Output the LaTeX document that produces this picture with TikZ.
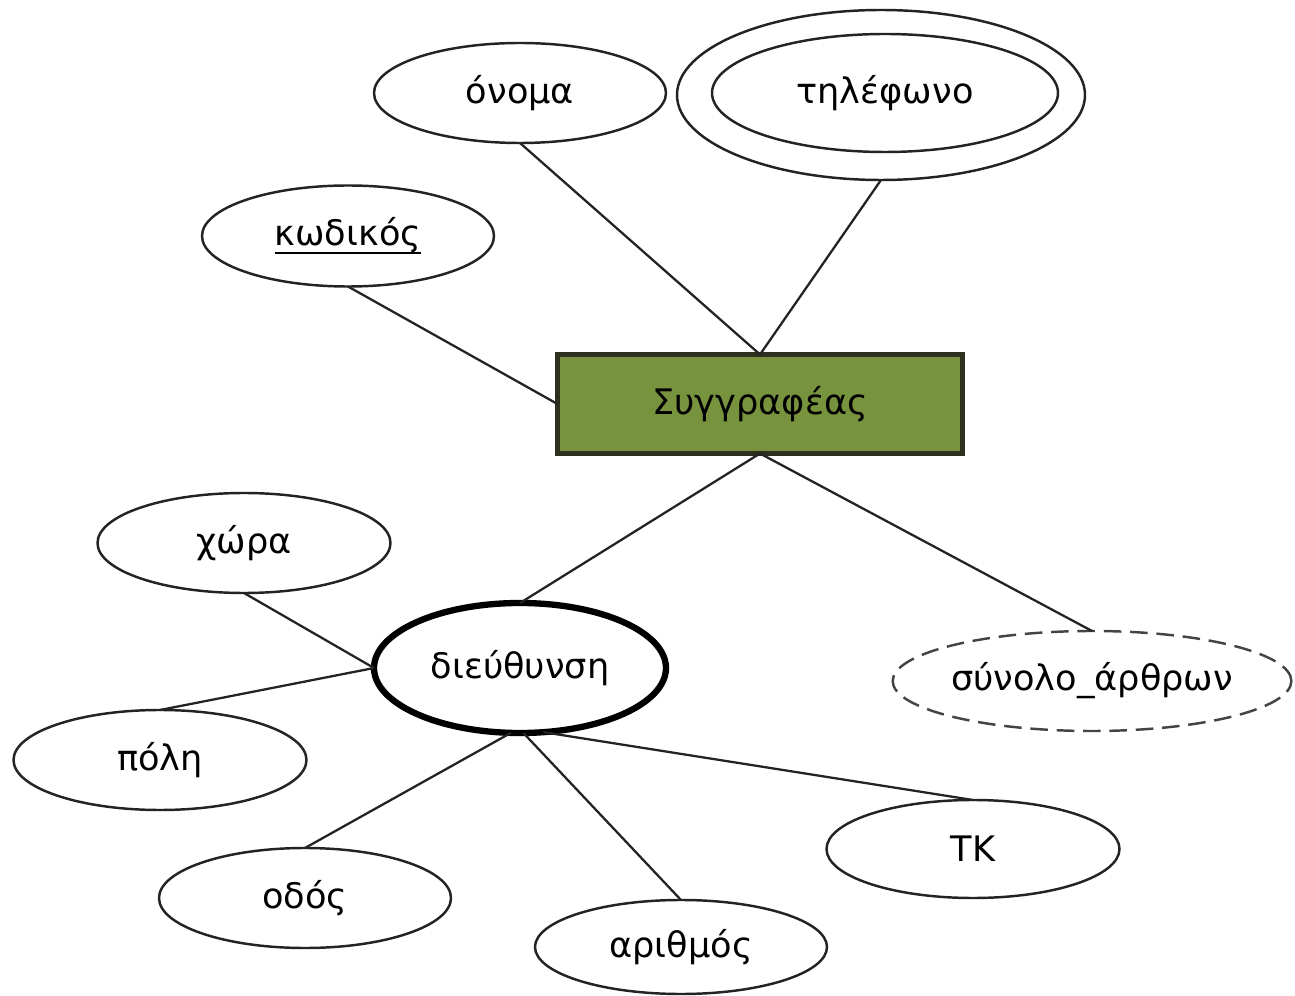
\documentclass[tikz,border=0pt]{standalone}
\usepackage{fontspec}
\setmainfont{DejaVu Sans}
\usetikzlibrary{shapes.geometric}
\definecolor{entgreen}{RGB}{119,147,62}
\definecolor{entedge}{RGB}{45,48,30}
\definecolor{edge}{RGB}{35,35,35}
% key attribute: text with a firm underline
\newsavebox{\keybox}
\newcommand{\keyattr}[1]{\sbox{\keybox}{#1}\rlap{\rule[-5pt]{\wd\keybox}{1.6pt}}\usebox{\keybox}}
\tikzset{
  lbl/.style={font=\fontsize{20}{24}\selectfont},
  attr/.style={ellipse, draw=edge, line width=1.4pt, inner sep=0pt, outer sep=0pt, lbl},
  sz/.style 2 args={minimum width=#1*0.02cm, minimum height=#2*0.02cm},
  entity/.style={rectangle, draw=entedge, fill=entgreen, line width=2.4pt, inner sep=0pt, outer sep=0pt, lbl},
  composite/.style={attr, draw=black, line width=3.6pt},
  derived/.style={attr, draw=edge!85, line width=1.4pt, dash pattern=on 10pt off 5pt},
  link/.style={draw=edge, line width=1.3pt},
}
\begin{document}
\begin{tikzpicture}[x=0.02cm,y=-0.02cm]
\useasboundingbox (0,0) rectangle (1295,996);

% entity
\node[entity, sz={405}{99}] (auth) at (760,404) {Συγγραφέας};

% attributes of the entity
\node[attr, sz={292}{100}] (onoma) at (520,93) {όνομα};
\node[attr, sz={408}{170}] (tilouter) at (881,95) {};
\node[attr, sz={346}{118}] (tilinner) at (885,93) {τηλέφωνο};
\node[attr, sz={292}{101}] (kod) at (348,236) {\keyattr{κωδικός}};
\node[composite, sz={292}{130}] (addr) at (520,668) {διεύθυνση};
\node[derived, sz={396}{100}] (arthra) at (1092,681) {σύνολο\_άρθρων};

% components of the address
\node[attr, sz={293}{100}] (xora) at (244,543) {χώρα};
\node[attr, sz={293}{100}] (poli) at (160,760) {πόλη};
\node[attr, sz={292}{100}] (odos) at (305,898) {οδός};
\node[attr, sz={292}{94}] (arith) at (681,947) {αριθμός};
\node[attr, sz={293}{98}] (tk) at (973,849) {ΤΚ};

% connectors
\draw[link] (kod.south) -- (auth.west);
\draw[link] (onoma.south) -- (auth.north);
\draw[link] (tilouter.south) -- (auth.north);
\draw[link] (auth.south) -- (addr.north);
\draw[link] (auth.south) -- (arthra.north);
\draw[link] (xora.south) -- (addr.west);
\draw[link] (poli.north) -- (addr.west);
\draw[link] (odos.north) -- (addr.262);
\draw[link] (arith.north) -- (addr.273);
\draw[link] (tk.north) -- (addr.290);
\end{tikzpicture}
\end{document}
